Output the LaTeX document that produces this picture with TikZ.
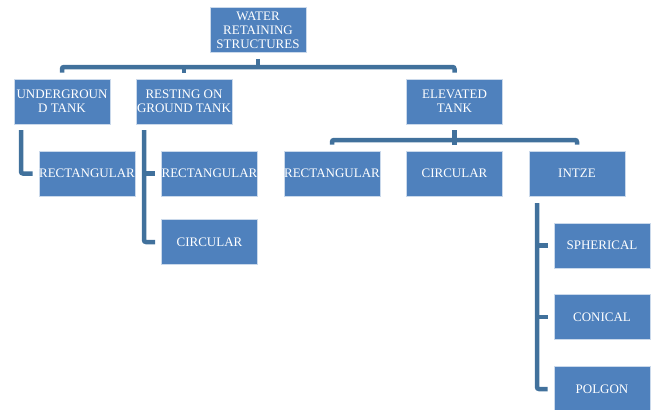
\documentclass[tikz,border=0pt]{standalone}
\usepackage{fontspec}
\setmainfont{Liberation Serif}
\usepackage{tikz}
\definecolor{boxblue}{HTML}{4F81BD}
\definecolor{linkblue}{HTML}{41719C}

\begin{document}
\begin{tikzpicture}[x=1pt,y=-1pt]
        \useasboundingbox (0,0) rectangle (654,410);
        \begin{scope}[every node/.style={rectangle, fill=boxblue, draw=white!70!boxblue, line width=0.6pt, text=white, minimum width=96pt, minimum height=45pt, inner sep=0pt, align=center, font=\fontsize{13}{14}\selectfont}]
            \node (Root) at (258,30) {WATER\\RETAINING\\STRUCTURES};
            \node (Under) at (62,101.5) {UNDERGROUN\\D TANK};
            \node (Resting) at (184,101.5) {RESTING ON\\GROUND TANK};
            \node (Elevated) at (454.5,101.5) {ELEVATED\\TANK};
            \node (UnderRect) at (87,173.5) {RECTANGULAR};
            \node (RestRect) at (209.5,173.5) {RECTANGULAR};
            \node (RestCirc) at (209.5,242) {CIRCULAR};
            \node (ElevRect) at (332,173.5) {RECTANGULAR};
            \node (ElevCirc) at (454.5,173.5) {CIRCULAR};
            \node (Intze) at (577,173.5) {INTZE};
            \node (Spherical) at (602,245.5) {SPHERICAL};
            \node (Conical) at (602,317) {CONICAL};
            \node (Polgon) at (602,389) {POLGON};
        \end{scope}
        \coordinate (TopBus) at (258,67);
        \coordinate (MidBus) at (454.5,140);
        \coordinate (UnderSpine) at (21,130);
        \coordinate (RestSpine) at (144,130);
        \coordinate (IntzeSpine) at (537,203);
        \begin{scope}[every path/.style={line width=4.5pt, draw=linkblue, rounded corners=2pt}]
            \draw ([yshift=-6pt]Root.south) -- (TopBus);
            \draw ([yshift=6pt]Under.north) |- (TopBus) -| ([yshift=6pt]Elevated.north);
            \draw ([yshift=6pt]Resting.north) -- (Resting.north |- TopBus);
            \draw ([yshift=-6pt]Elevated.south) -- (MidBus);
            \draw ([yshift=6pt]ElevRect.north) |- (MidBus) -| ([yshift=6pt]Intze.north);
            \draw ([yshift=6pt]ElevCirc.north) -- (MidBus);
            \draw (UnderSpine) |- ([xshift=-6pt]UnderRect.west);
            \draw (RestSpine) |- ([xshift=-6pt]RestCirc.west);
            \draw (RestSpine |- RestRect.west) -- ([xshift=-6pt]RestRect.west);
            \draw (IntzeSpine) |- ([xshift=-6pt]Polgon.west);
            \draw (IntzeSpine |- Spherical.west) -- ([xshift=-6pt]Spherical.west);
            \draw (IntzeSpine |- Conical.west) -- ([xshift=-6pt]Conical.west);
        \end{scope}
    \end{tikzpicture}
\end{document}
